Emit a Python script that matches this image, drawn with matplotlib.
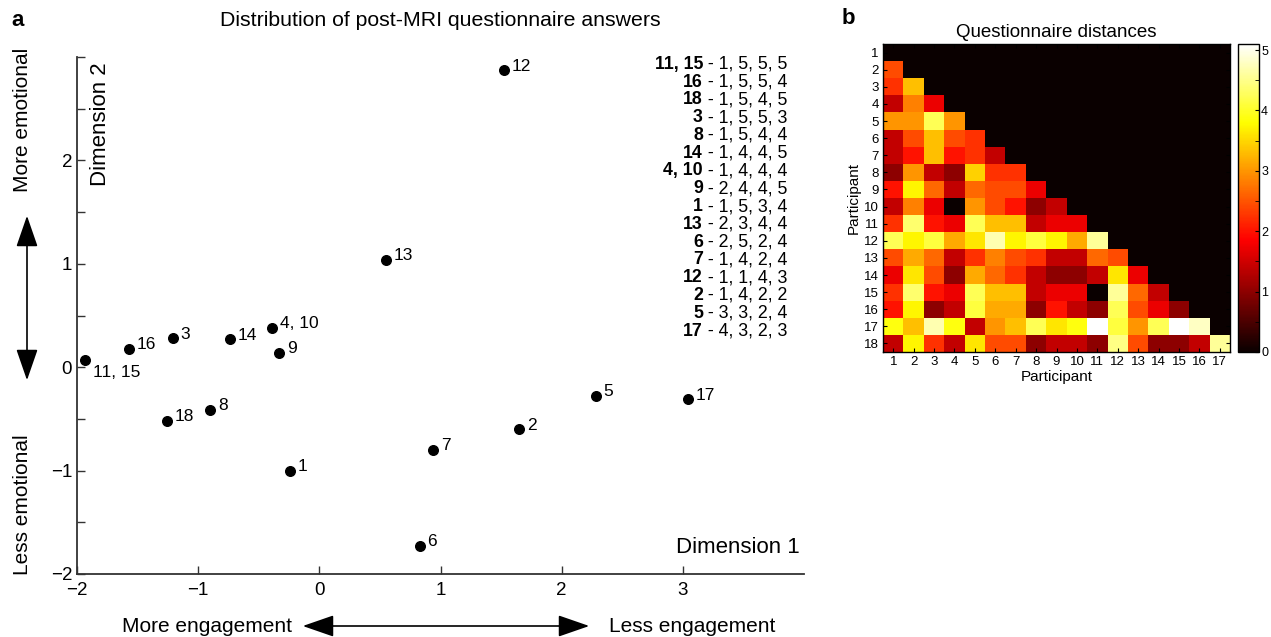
import numpy as np
import matplotlib
matplotlib.use('Agg')
import matplotlib.pyplot as plt
from matplotlib.patches import FancyArrowPatch
from matplotlib.ticker import MultipleLocator

plt.rcParams['font.family'] = ['Liberation Sans', 'DejaVu Sans']

# ─────────────────────────────────────────────────────────────────
# DATA
# ─────────────────────────────────────────────────────────────────
# panel a: 2-D embedding of the questionnaire answers
point_labels = ['1', '2', '3', '4, 10', '5', '6', '7', '8', '9',
                '11, 15', '12', '13', '14', '16', '17', '18']
dim1 = [-0.24, 1.65, -1.21, -0.39, 2.28, 0.83, 0.94, -0.90, -0.33,
        -1.93, 1.52, 0.55, -0.74, -1.57, 3.04, -1.26]
dim2 = [-1.00, -0.60, 0.28, 0.38, -0.28, -1.73, -0.80, -0.41, 0.14,
        0.07, 2.87, 1.04, 0.27, 0.18, -0.31, -0.52]

# answer key shown at the top right of panel a
answer_ids = ['11, 15', '16', '18', '3', '8', '14', '4, 10', '9', '1',
              '13', '6', '7', '12', '2', '5', '17']
answer_vals = ['1, 5, 5, 5', '1, 5, 5, 4', '1, 5, 4, 5', '1, 5, 5, 3',
               '1, 5, 4, 4', '1, 4, 4, 5', '1, 4, 4, 4', '2, 4, 4, 5',
               '1, 5, 3, 4', '2, 3, 4, 4', '2, 5, 2, 4', '1, 4, 2, 4',
               '1, 1, 4, 3', '1, 4, 2, 2', '3, 3, 2, 4', '4, 3, 2, 3']

# panel b: lower triangle of the distance matrix (row i vs participants 1..i-1)
dist_rows = [
    [],
    [2.45],
    [2.24, 3.32],
    [1.41, 2.83, 1.73],
    [3.00, 3.00, 4.24, 3.00],
    [1.41, 2.45, 3.32, 2.45, 2.24],
    [1.41, 2.00, 3.32, 2.00, 2.24, 1.41],
    [1.00, 3.00, 1.41, 1.00, 3.46, 2.24, 2.24],
    [2.00, 3.74, 2.65, 1.41, 2.65, 2.45, 2.45, 1.73],
    [1.41, 2.83, 1.73, 0.00, 3.00, 2.45, 2.00, 1.00, 1.41],
    [2.24, 4.36, 2.00, 1.73, 4.24, 3.32, 3.32, 1.41, 1.73, 1.73],
    [4.24, 3.74, 4.12, 3.16, 3.61, 4.69, 3.74, 4.12, 3.74, 3.16, 4.58],
    [2.45, 3.16, 2.65, 1.41, 2.24, 2.83, 2.45, 2.24, 1.41, 1.41, 2.65, 2.45],
    [1.73, 3.61, 2.45, 1.00, 3.16, 2.65, 2.24, 1.41, 1.00, 1.00, 1.41, 3.61, 1.73],
    [2.24, 4.36, 2.00, 1.73, 4.24, 3.32, 3.32, 1.41, 1.73, 1.73, 0.00, 4.58, 2.65, 1.41],
    [2.00, 3.74, 1.00, 1.41, 4.12, 3.16, 3.16, 1.00, 2.00, 1.41, 1.00, 4.24, 2.45, 1.73, 1.00],
    [3.87, 3.32, 4.69, 3.87, 1.41, 3.00, 3.32, 4.24, 3.61, 3.87, 5.10, 4.12, 3.00, 4.24, 5.10, 4.80],
    [1.41, 3.74, 2.24, 1.41, 3.61, 2.45, 2.45, 1.00, 1.41, 1.41, 1.00, 4.47, 2.45, 1.00, 1.00, 1.41, 4.58],
]
n_rows, n_cols = 18, 17

dist = np.zeros((n_rows, n_cols))
for i, row in enumerate(dist_rows):
    dist[i, :len(row)] = row

# ─────────────────────────────────────────────────────────────────
# FIGURE
# ─────────────────────────────────────────────────────────────────
W, H = 1271, 637
fig = plt.figure(figsize=(W / 100, H / 100), dpi=100, facecolor='white')


def px(x, y):
    # pixel position (from top-left) -> figure fraction
    return x / W, 1 - y / H


AXC = '#333333'

# ── Panel a: scatter ─────────────────────────────────────────────
ax = fig.add_axes([77 / W, 1 - 574 / H, 727 / W, 517 / H])
ax.scatter(dim1, dim2, s=48, color='black', zorder=3)
for lab, x, y in zip(point_labels, dim1, dim2):
    off = (5.5, -9) if lab == '11, 15' else (5.5, 3)
    ax.annotate(lab, (x, y), xytext=off, textcoords='offset points',
                ha='left', va='center', fontsize=12.5)

ax.set_xlim(-2, 4)
ax.set_ylim(-2, 3)
ax.set_xticks(range(-2, 4))
ax.set_yticks(range(-2, 3))
ax.yaxis.set_minor_locator(MultipleLocator(0.5))
ax.tick_params(which='both', direction='in', length=6, width=1,
               color=AXC, labelsize=13.5)
ax.tick_params(axis='x', pad=6)
for s in ['top', 'right']:
    ax.spines[s].set_visible(False)
for s in ['left', 'bottom']:
    ax.spines[s].set_color(AXC)
    ax.spines[s].set_linewidth(1.3)

ax.text(0.032, 0.99, 'Dimension 2', transform=ax.transAxes, rotation=90,
        ha='center', va='top', fontsize=16)
ax.text(0.994, 0.052, 'Dimension 1', transform=ax.transAxes,
        ha='right', va='center', fontsize=16)

for i, (ids, vals) in enumerate(zip(answer_ids, answer_vals)):
    y = 0.986 - i * 0.0344
    t = ax.text(0.977, y, ' - ' + vals, transform=ax.transAxes,
                ha='right', va='center', fontsize=12.8)
    ax.annotate(ids, xy=(0, 0.5), xycoords=t, ha='right', va='center',
                fontsize=12.8, fontweight='bold')

fig.text(*px(440, 21), 'Distribution of post-MRI questionnaire answers',
         ha='center', va='center', fontsize=15.3)
fig.text(*px(18, 20), 'a', ha='center', va='center', fontsize=16,
         fontweight='bold')

# direction arrows around panel a
arrow_style = '<|-|>,head_length=1.3,head_width=0.45'
fig.add_artist(FancyArrowPatch(
    px(27, 213), px(27, 383), transform=fig.transFigure,
    arrowstyle=arrow_style, mutation_scale=15, color='black', lw=1.2))
fig.add_artist(FancyArrowPatch(
    px(300, 626), px(592, 626), transform=fig.transFigure,
    arrowstyle=arrow_style, mutation_scale=15, color='black', lw=1.2))
fig.text(*px(22, 120), 'More emotional', rotation=90, ha='center',
         va='center', fontsize=15)
fig.text(*px(22, 505), 'Less emotional', rotation=90, ha='center',
         va='center', fontsize=15)
fig.text(*px(207, 626), 'More engagement', ha='center', va='center',
         fontsize=15)
fig.text(*px(692, 626), 'Less engagement', ha='center', va='center',
         fontsize=15)

# ── Panel b: distance matrix ─────────────────────────────────────
ax_b = fig.add_axes([883 / W, 1 - 352 / H, 347 / W, 308 / H])
im = ax_b.imshow(dist, cmap='hot', vmin=0, vmax=dist.max(), aspect='auto',
                 interpolation='nearest',
                 extent=(0.5, n_cols + 0.5, n_rows + 0.5, 0.5))
ax_b.set_xticks(range(1, n_cols + 1))
ax_b.set_yticks(range(1, n_rows + 1))
ax_b.tick_params(direction='in', length=3, labelsize=9.5, top=True,
                 right=True, pad=3)
ax_b.set_xlabel('Participant', fontsize=11, labelpad=1)
ax_b.set_ylabel('Participant', fontsize=11, labelpad=2)
ax_b.set_title('Questionnaire distances', fontsize=13.5, pad=5)
for s in ax_b.spines.values():
    s.set_linewidth(1.0)

cax = fig.add_axes([1238 / W, 1 - 352 / H, 21 / W, 308 / H])
cb = fig.colorbar(im, cax=cax, ticks=range(6))
cax.yaxis.set_minor_locator(MultipleLocator(0.5))
cax.tick_params(which='both', direction='in', length=3, labelsize=9,
                pad=1.5)
cb.outline.set_linewidth(1.0)

fig.text(*px(848, 19), 'b', ha='center', va='center', fontsize=16,
         fontweight='bold')

fig.savefig('out.png', dpi=100, facecolor='white')
